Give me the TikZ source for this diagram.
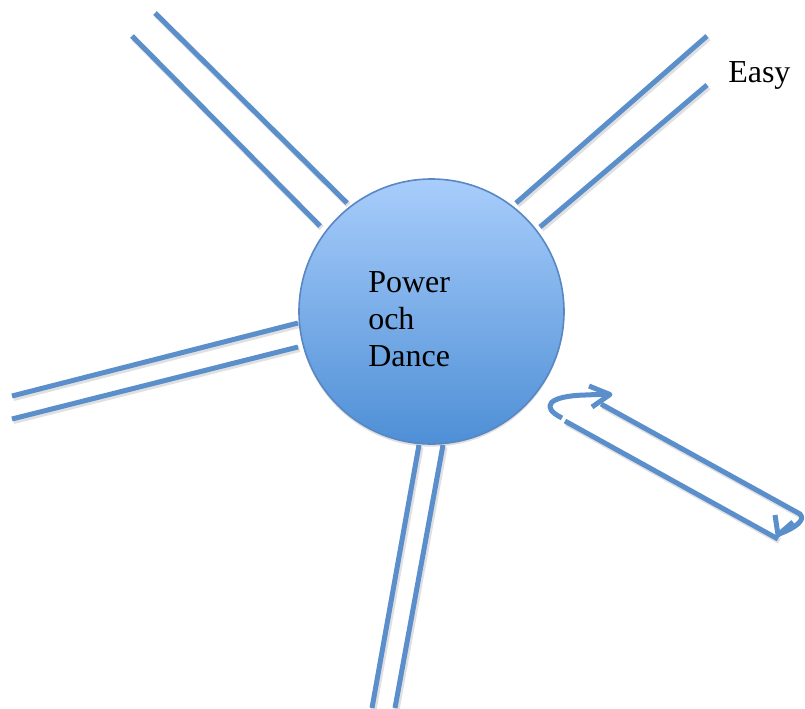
\documentclass[tikz,border=0pt]{standalone}
\usepackage{fontspec}
\setmainfont{Liberation Serif}
\usetikzlibrary{shadows}
\definecolor{linecol}{RGB}{91,143,203}
\definecolor{circtop}{RGB}{168,205,251}
\definecolor{circbot}{RGB}{78,143,214}
\definecolor{circedge}{RGB}{88,135,195}
\tikzset{
  bar/.style={draw=linecol, line width=3.75pt},
  barshadow/.style={draw=black, opacity=0.12, line width=4.5pt},
  label/.style={font=\fontsize{24}{28}\selectfont, inner sep=0pt, anchor=base west},
}
\begin{document}
\begin{tikzpicture}[x=0.75pt, y=-0.75pt]
\useasboundingbox (0,0) rectangle (805,708);
% shadows of lines
\begin{scope}[shift={(1.5,2)}]
\foreach \a/\b in {{155,13}/{347,203},{132,36}/{320,226},{707,36}/{516,203},{707,85}/{540,227},{12,396}/{298,323},{12,419}/{298,347},{419,445}/{372,708},{443,445}/{395,708},{601,404}/{800,514},{778,539}/{565,421}}
  \draw[barshadow] (\a) -- (\b);
\end{scope}
% radiating double lines
\draw[bar] (155,13) -- (347,203);
\draw[bar] (132,36) -- (320,226);
\draw[bar] (707,36) -- (516,203);
\draw[bar] (707,85) -- (540,227);
\draw[bar] (12,396) -- (298,323);
\draw[bar] (12,419) -- (298,347);
\draw[bar] (419,445) -- (372,708);
\draw[bar] (443,445) -- (395,708);
% central circle
\node[circle, minimum size=265*0.75pt, inner sep=0pt, draw=circedge, line width=1.2pt,
      top color=circtop, bottom color=circbot,
      drop shadow={opacity=0.25, shadow xshift=0pt, shadow yshift=-2pt}] (hub) at (431.5,311.5) {};
\node[label] (t1) at (368,292) {Power};
\node[label] (t2) at (368,329) {och};
\node[label] (t3) at (368,366) {Dance};
\node[label] (easy) at (728,82) {Easy};
% loop with arrows (lower right)
\draw[bar, line join=round] (562,418) .. controls (540,407) and (548,396) .. (585,395) -- (609,394);
\draw[bar, line join=round] (589,386) -- (610,394.5) -- (592,407);
\draw[bar, line join=round] (601,404) -- (800,514) .. controls (806,520) and (795,528) .. (779,534);
\draw[bar, line join=round] (775,515) -- (778,535) -- (793,522);
\draw[bar] (778,539) -- (565,421);
\end{tikzpicture}
\end{document}
